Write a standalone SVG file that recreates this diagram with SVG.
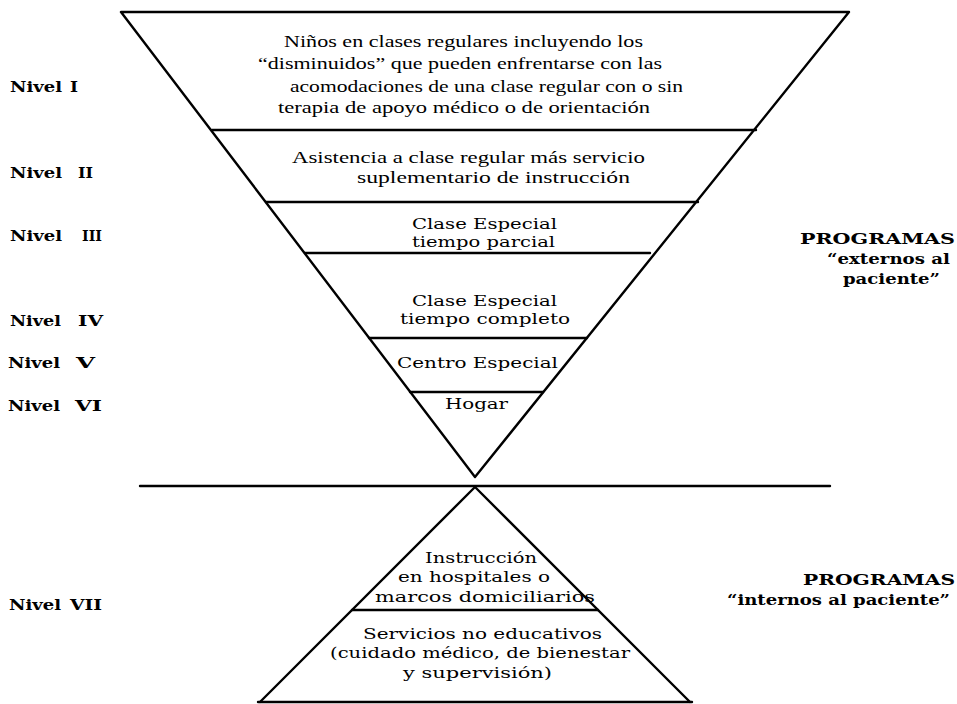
<svg xmlns="http://www.w3.org/2000/svg" width="957" height="704" viewBox="0 0 957 704">
<style>
.ln{stroke:#000;stroke-width:2.4;fill:none;stroke-linecap:round;stroke-linejoin:round}
.t1{font-family:"Liberation Serif","Times New Roman",serif;font-size:17px;fill:#000}
.t2{font-family:"DejaVu Serif","Liberation Serif",serif;font-size:15px;fill:#000}
.lb{font-family:"DejaVu Serif","Liberation Serif",serif;font-size:15px;font-weight:bold;fill:#000}
.rb{font-family:"DejaVu Serif","Liberation Serif",serif;font-size:15px;font-weight:bold;fill:#000}
</style>
<rect width="957" height="704" fill="#fff"/>
<g id="connectors">
<polygon class="ln" points="121,12 849,12 475,477"/>
<line class="ln" x1="212" y1="130" x2="756" y2="130"/>
<line class="ln" x1="266" y1="202" x2="698" y2="202"/>
<line class="ln" x1="305" y1="253" x2="650" y2="253"/>
<line class="ln" x1="369" y1="338" x2="587" y2="338"/>
<line class="ln" x1="410" y1="392" x2="543" y2="392"/>
<line class="ln" x1="140" y1="486" x2="830" y2="486"/>
<polyline class="ln" points="260,702 475,487 690,702"/>
<line class="ln" x1="352" y1="610" x2="598" y2="610"/>
<line class="ln" x1="258" y1="702" x2="692" y2="702"/>
</g>
<g id="nivel1">
<text class="t1" x="284" y="47" textLength="359" lengthAdjust="spacingAndGlyphs">Niños en clases regulares incluyendo los</text>
<text class="t1" x="258" y="69" textLength="404" lengthAdjust="spacingAndGlyphs">“disminuidos” que pueden enfrentarse con las</text>
<text class="t1" x="290" y="92" textLength="393" lengthAdjust="spacingAndGlyphs">acomodaciones de una clase regular con o sin</text>
<text class="t1" x="278" y="113" textLength="372" lengthAdjust="spacingAndGlyphs">terapia de apoyo médico o de orientación</text>
</g>
<g id="nivel2">
<text class="t1" x="292" y="163" textLength="353" lengthAdjust="spacingAndGlyphs">Asistencia a clase regular más servicio</text>
<text class="t1" x="357" y="183" textLength="273" lengthAdjust="spacingAndGlyphs">suplementario de instrucción</text>
</g>
<g id="nivel3">
<text class="t2" x="412" y="229" textLength="145" lengthAdjust="spacingAndGlyphs">Clase Especial</text>
<text class="t2" x="412" y="247" textLength="143" lengthAdjust="spacingAndGlyphs">tiempo parcial</text>
</g>
<g id="nivel4">
<text class="t2" x="412" y="306" textLength="145" lengthAdjust="spacingAndGlyphs">Clase Especial</text>
<text class="t2" x="400" y="324" textLength="170" lengthAdjust="spacingAndGlyphs">tiempo completo</text>
</g>
<g id="nivel5">
<text class="t2" x="397" y="368" textLength="161" lengthAdjust="spacingAndGlyphs">Centro Especial</text>
</g>
<g id="nivel6">
<text class="t2" x="445" y="409" textLength="63" lengthAdjust="spacingAndGlyphs">Hogar</text>
</g>
<g id="nivel7a">
<text class="t2" x="425" y="563" textLength="112" lengthAdjust="spacingAndGlyphs">Instrucción</text>
<text class="t2" x="398" y="582" textLength="152" lengthAdjust="spacingAndGlyphs">en hospitales o</text>
<text class="t2" x="375" y="602" textLength="220" lengthAdjust="spacingAndGlyphs">marcos domiciliarios</text>
</g>
<g id="nivel7b">
<text class="t2" x="363" y="639" textLength="239" lengthAdjust="spacingAndGlyphs">Servicios no educativos</text>
<text class="t2" x="330" y="658" textLength="300" lengthAdjust="spacingAndGlyphs">(cuidado médico, de bienestar</text>
<text class="t2" x="403" y="678" textLength="149" lengthAdjust="spacingAndGlyphs">y supervisión)</text>
</g>
<g id="labels">
<text class="lb" y="92"><tspan x="10" textLength="52" lengthAdjust="spacingAndGlyphs">Nivel</tspan><tspan x="70" textLength="8" lengthAdjust="spacingAndGlyphs">I</tspan></text>
<text class="lb" y="178"><tspan x="10" textLength="52" lengthAdjust="spacingAndGlyphs">Nivel</tspan><tspan x="78" textLength="15" lengthAdjust="spacingAndGlyphs">II</tspan></text>
<text class="lb" y="241"><tspan x="10" textLength="52" lengthAdjust="spacingAndGlyphs">Nivel</tspan><tspan x="82" textLength="20" lengthAdjust="spacingAndGlyphs">III</tspan></text>
<text class="lb" y="326"><tspan x="10" textLength="51" lengthAdjust="spacingAndGlyphs">Nivel</tspan><tspan x="78" textLength="25" lengthAdjust="spacingAndGlyphs">IV</tspan></text>
<text class="lb" y="368"><tspan x="8" textLength="52" lengthAdjust="spacingAndGlyphs">Nivel</tspan><tspan x="76" textLength="19" lengthAdjust="spacingAndGlyphs">V</tspan></text>
<text class="lb" y="411"><tspan x="8" textLength="52" lengthAdjust="spacingAndGlyphs">Nivel</tspan><tspan x="75" textLength="27" lengthAdjust="spacingAndGlyphs">VI</tspan></text>
<text class="lb" y="610"><tspan x="9" textLength="52" lengthAdjust="spacingAndGlyphs">Nivel</tspan><tspan x="70" textLength="32" lengthAdjust="spacingAndGlyphs">VII</tspan></text>
</g>
<g id="programas-externos">
<text class="rb" x="800" y="244" textLength="155" lengthAdjust="spacingAndGlyphs">PROGRAMAS</text>
<text class="rb" x="827" y="264" textLength="123" lengthAdjust="spacingAndGlyphs">“externos al</text>
<text class="rb" x="843" y="284" textLength="97" lengthAdjust="spacingAndGlyphs">paciente”</text>
</g>
<g id="programas-internos">
<text class="rb" x="803" y="585" textLength="152" lengthAdjust="spacingAndGlyphs">PROGRAMAS</text>
<text class="rb" x="727" y="605" textLength="223" lengthAdjust="spacingAndGlyphs">“internos al paciente”</text>
</g>
</svg>
